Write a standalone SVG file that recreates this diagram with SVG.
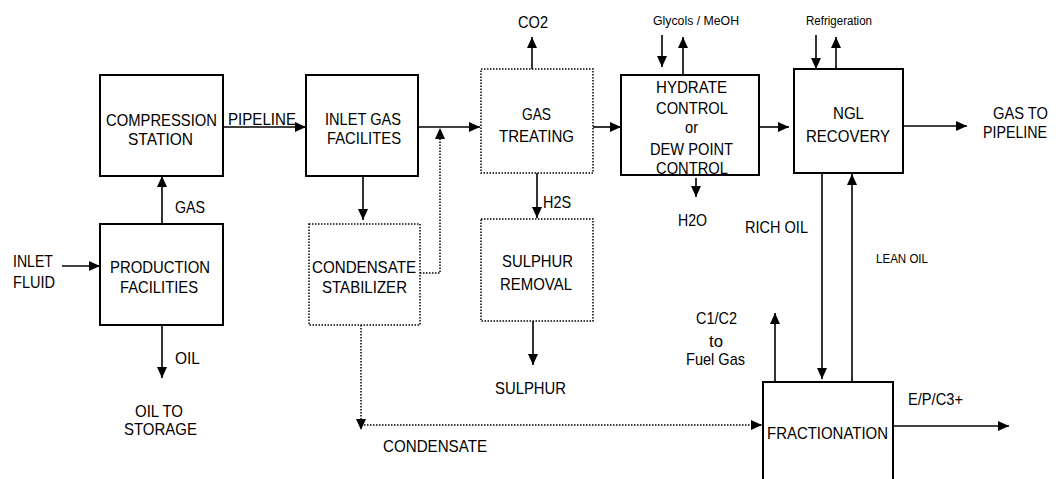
<svg xmlns="http://www.w3.org/2000/svg" width="1059" height="479" viewBox="0 0 1059 479">
<style>
text{font-family:"Liberation Sans",Arial,sans-serif;font-size:17px;fill:#000}
.sm{font-size:12px}
.box{fill:none;stroke:#000;stroke-width:2}
.dbox{fill:none;stroke:#000;stroke-width:1.5;stroke-dasharray:1.5 1.5}
.ln{fill:none;stroke:#000;stroke-width:1.6}
.dl{fill:none;stroke:#000;stroke-width:1.5;stroke-dasharray:1.5 1.5}
</style>
<defs>
<marker id="ah" markerUnits="userSpaceOnUse" markerWidth="11" markerHeight="10" refX="11" refY="5" orient="auto">
<path d="M0,0 L11,5 L0,10 z" fill="#000"/>
</marker>
</defs>
<rect width="1059" height="479" fill="#fff"/>

<g id="connectors">
<path class="ln" d="M62 266 H100" marker-end="url(#ah)"/>
<path class="ln" d="M162 224 V176" marker-end="url(#ah)"/>
<path class="ln" d="M162 325 V378" marker-end="url(#ah)"/>
<path class="ln" d="M223 127 H306" marker-end="url(#ah)"/>
<path class="ln" d="M418 127 H480" marker-end="url(#ah)"/>
<path class="ln" d="M363 177 V220" marker-end="url(#ah)"/>
<path class="dl" d="M420 273 H440 V128" marker-end="url(#ah)"/>
<path class="dl" d="M361 325 V430" marker-end="url(#ah)"/>
<path class="dl" d="M361 425 H762" marker-end="url(#ah)"/>
<path class="ln" d="M532 69 V37" marker-end="url(#ah)"/>
<path class="ln" d="M537 173 V218" marker-end="url(#ah)"/>
<path class="ln" d="M533 321 V365" marker-end="url(#ah)"/>
<path class="ln" d="M593 127 H621" marker-end="url(#ah)"/>
<path class="ln" d="M662 35 V67" marker-end="url(#ah)"/>
<path class="ln" d="M683 75 V37" marker-end="url(#ah)"/>
<path class="ln" d="M759 127 H789" marker-end="url(#ah)"/>
<path class="ln" d="M696 178 V197" marker-end="url(#ah)"/>
<path class="ln" d="M816 35 V69" marker-end="url(#ah)"/>
<path class="ln" d="M836 69 V37" marker-end="url(#ah)"/>
<path class="ln" d="M903 126 H967" marker-end="url(#ah)"/>
<path class="ln" d="M822 173 V379" marker-end="url(#ah)"/>
<path class="ln" d="M852 382 V174" marker-end="url(#ah)"/>
<path class="ln" d="M775 382 V313" marker-end="url(#ah)"/>
<path class="ln" d="M893 426 H1009" marker-end="url(#ah)"/>
</g>

<g id="labels">
<text x="228" y="125" textLength="68" lengthAdjust="spacingAndGlyphs">PIPELINE</text>
<text x="175" y="213" textLength="30" lengthAdjust="spacingAndGlyphs">GAS</text>
<text x="13" y="267" textLength="40" lengthAdjust="spacingAndGlyphs">INLET</text>
<text x="13" y="288" textLength="42" lengthAdjust="spacingAndGlyphs">FLUID</text>
<text x="175" y="364" textLength="25" lengthAdjust="spacingAndGlyphs">OIL</text>
<text x="135" y="417" textLength="48" lengthAdjust="spacingAndGlyphs">OIL TO</text>
<text x="124" y="435" textLength="73" lengthAdjust="spacingAndGlyphs">STORAGE</text>
<text x="543" y="208" textLength="28" lengthAdjust="spacingAndGlyphs">H2S</text>
<text x="495" y="394" textLength="71" lengthAdjust="spacingAndGlyphs">SULPHUR</text>
<text x="383" y="452" textLength="104" lengthAdjust="spacingAndGlyphs">CONDENSATE</text>
<text x="518" y="28" textLength="30" lengthAdjust="spacingAndGlyphs">CO2</text>
<text class="sm" x="653" y="25" textLength="86" lengthAdjust="spacingAndGlyphs">Glycols  / MeOH</text>
<text x="678" y="226" textLength="29" lengthAdjust="spacingAndGlyphs">H2O</text>
<text class="sm" x="806" y="25" textLength="66" lengthAdjust="spacingAndGlyphs">Refrigeration</text>
<text x="993" y="119" textLength="55" lengthAdjust="spacingAndGlyphs">GAS TO</text>
<text x="983" y="138" textLength="64" lengthAdjust="spacingAndGlyphs">PIPELINE</text>
<text x="745" y="233" textLength="63" lengthAdjust="spacingAndGlyphs">RICH OIL</text>
<text class="sm" x="876" y="263" textLength="52" lengthAdjust="spacingAndGlyphs">LEAN OIL</text>
<text x="696" y="324" textLength="41" lengthAdjust="spacingAndGlyphs">C1/C2</text>
<text x="709" y="347" textLength="14" lengthAdjust="spacingAndGlyphs">to</text>
<text x="686" y="365" textLength="59" lengthAdjust="spacingAndGlyphs">Fuel Gas</text>
<text x="908" y="405" textLength="55" lengthAdjust="spacingAndGlyphs">E/P/C3+</text>
</g>

<g id="compression-station">
<rect class="box" x="100" y="75" width="123" height="101"/>
<text x="106" y="126" textLength="111" lengthAdjust="spacingAndGlyphs">COMPRESSION</text>
<text x="128" y="145" textLength="65" lengthAdjust="spacingAndGlyphs">STATION</text>
</g>
<g id="production-facilities">
<rect class="box" x="100" y="224" width="123" height="101"/>
<text x="110" y="273" textLength="100" lengthAdjust="spacingAndGlyphs">PRODUCTION</text>
<text x="120" y="293" textLength="78" lengthAdjust="spacingAndGlyphs">FACILITIES</text>
</g>
<g id="inlet-gas-facilities">
<rect class="box" x="306" y="75" width="112" height="101"/>
<text x="325" y="125" textLength="76" lengthAdjust="spacingAndGlyphs">INLET GAS</text>
<text x="327" y="144" textLength="74" lengthAdjust="spacingAndGlyphs">FACILITES</text>
</g>
<g id="condensate-stabilizer">
<rect class="dbox" x="309" y="224" width="111" height="101"/>
<text x="312" y="273" textLength="104" lengthAdjust="spacingAndGlyphs">CONDENSATE</text>
<text x="322" y="293" textLength="85" lengthAdjust="spacingAndGlyphs">STABILIZER</text>
</g>
<g id="gas-treating">
<rect class="dbox" x="481" y="69" width="112" height="104"/>
<text x="522" y="120" textLength="29" lengthAdjust="spacingAndGlyphs">GAS</text>
<text x="499" y="142" textLength="75" lengthAdjust="spacingAndGlyphs">TREATING</text>
</g>
<g id="sulphur-removal">
<rect class="dbox" x="481" y="219" width="112" height="102"/>
<text x="502" y="267" textLength="71" lengthAdjust="spacingAndGlyphs">SULPHUR</text>
<text x="500" y="290" textLength="72" lengthAdjust="spacingAndGlyphs">REMOVAL</text>
</g>
<g id="hydrate-control">
<rect class="box" x="621" y="75" width="138" height="100"/>
<text x="656" y="93" textLength="71" lengthAdjust="spacingAndGlyphs">HYDRATE</text>
<text x="656" y="114" textLength="72" lengthAdjust="spacingAndGlyphs">CONTROL</text>
<text x="685" y="133" textLength="13" lengthAdjust="spacingAndGlyphs">or</text>
<text x="650" y="155" textLength="83" lengthAdjust="spacingAndGlyphs">DEW POINT</text>
<text x="656" y="174" textLength="72" lengthAdjust="spacingAndGlyphs">CONTROL</text>
</g>
<g id="ngl-recovery">
<rect class="box" x="794" y="69" width="109" height="104"/>
<text x="833" y="119" textLength="31" lengthAdjust="spacingAndGlyphs">NGL</text>
<text x="806" y="142" textLength="84" lengthAdjust="spacingAndGlyphs">RECOVERY</text>
</g>
<g id="fractionation">
<path class="box" d="M763 481 V382 H893 V481"/>
<text x="767" y="439" textLength="121" lengthAdjust="spacingAndGlyphs">FRACTIONATION</text>
</g>
</svg>
